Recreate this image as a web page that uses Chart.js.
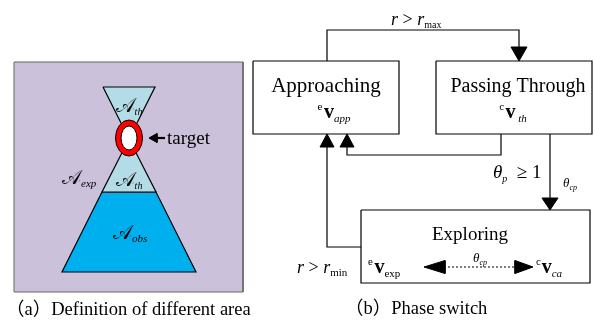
<!DOCTYPE html>
<html>
<head>
<meta charset="utf-8">
<script src="https://cdn.jsdelivr.net/npm/chart.js@4.4.1/dist/chart.umd.min.js"></script>
<style>
  html, body { margin: 0; padding: 0; background: #fff; }
  #wrap { width: 594px; height: 323px; position: relative; }
</style>
</head>
<body>
<div id="wrap"><canvas id="fig"></canvas></div>
<script>
// coordinates are in figure units (1 unit = 1px, y grows downward)

// (a) zones around the target
const panelA = [[14, 62], [243, 62], [243, 292], [14, 292]];
const zoneThTop = [[103, 87], [155, 87], [129, 139]];
const zoneThLow = [[129, 139], [156, 192], [102, 192]];
const zoneObs = [[102, 192], [156, 192], [196, 272], [62, 272]];
const ring = { x: 129, y: 138, rx: 13.5, ry: 18, irx: 8, iry: 12 };

// (b) phase boxes [left, top, right, bottom]
const boxApproach = [253, 61, 399, 134];
const boxPassing = [436, 61, 592, 134];
const boxExplore = [361, 210, 590, 283];

// transitions between phases
const links = [
  [[327, 61], [327, 30], [519, 30], [519, 48]],
  [[501, 134], [501, 155], [347, 155], [347, 146]],
  [[361, 247], [327, 247], [327, 146]],
  [[550, 134], [550, 199]]
];
const pointer = [[152, 138], [165, 138]];
const dotted = [[444, 267], [516, 267]];
// arrow heads: tip, direction, length, half width
const heads = [
  { tip: [519, 61], dir: 'down', len: 14, half: 8 },
  { tip: [347, 134], dir: 'up', len: 13, half: 7 },
  { tip: [327, 134], dir: 'up', len: 13, half: 7 },
  { tip: [550, 210], dir: 'down', len: 12, half: 8 },
  { tip: [424, 267], dir: 'left', len: 21, half: 6.5 },
  { tip: [533, 267], dir: 'right', len: 18, half: 6.5 },
  { tip: [149, 138], dir: 'left', len: 8, half: 4.5 }
];

// text: [text, style, size, dy]
const labels = [
  { at: [326, 92], align: 'center', runs: [['Approaching', 'n', 21]] },
  { at: [518, 92], align: 'center', runs: [['Passing Through', 'n', 20]] },
  { at: [470, 240], align: 'center', runs: [['Exploring', 'n', 19]] },
  { at: [334, 118], align: 'center', runs: [['e', 'n', 11, -8], [' ', 'n', 6], ['v', 'b', 20], ['app', 'i', 11, 4]] },
  { at: [513, 118], align: 'center', runs: [['c', 'n', 11, -8], [' ', 'n', 6], ['v', 'b', 20], [' th', 'i', 11, 4]] },
  { at: [391, 25], align: 'left', runs: [['r', 'i', 18], [' > ', 'n', 18], ['r', 'i', 18], ['max', 'n', 10, 3]] },
  { at: [493, 178], align: 'left', runs: [['θ', 'i', 19], ['p', 'i', 10, 4], ['  ≥ 1', 'n', 19]] },
  { at: [563, 187], align: 'left', runs: [['θ', 'i', 13], ['cp', 'i', 8, 3]] },
  { at: [473, 262], align: 'left', runs: [['θ', 'i', 13], ['cp', 'i', 8, 3]] },
  { at: [368, 273], align: 'left', runs: [['e', 'n', 11, -8], [' ', 'n', 6], ['v', 'b', 20], ['exp', 'n', 11, 4]] },
  { at: [536, 273], align: 'left', runs: [['c', 'n', 11, -8], [' ', 'n', 3], ['v', 'b', 20], ['ca', 'i', 11, 4]] },
  { at: [297, 273], align: 'left', runs: [['r', 'i', 18], [' > ', 'n', 18], ['r', 'i', 18], ['min', 'n', 11, 3]] },
  { at: [129, 112], align: 'center', runs: [['𝒜', 'n', 20], ['th', 'i', 10, 3]] },
  { at: [129, 186], align: 'center', runs: [['𝒜', 'n', 20], ['th', 'i', 10, 3]] },
  { at: [62, 184], align: 'left', runs: [['𝒜', 'n', 20], ['exp', 'i', 11, 3]] },
  { at: [113, 239], align: 'left', runs: [['𝒜', 'n', 20], ['obs', 'i', 11, 3]] },
  { at: [167, 144], align: 'left', runs: [['target', 'n', 19]] },
  { at: [6, 315], align: 'left', runs: [['（a）Definition of different area', 'n', 18.5]] },
  { at: [345, 314], align: 'left', runs: [['（b）Phase switch', 'n', 18.5]] }
];

const SERIF = '"Liberation Serif", "DejaVu Serif", "Noto Sans CJK SC", serif';

function pts(list) {
  return list.map(p => ({ x: p[0], y: p[1] }));
}

function rectPts(r) {
  return [[r[0], r[1]], [r[2], r[1]], [r[2], r[3]], [r[0], r[3]]];
}

function shape(list, fill, stroke, width, order) {
  const closed = list.concat([list[0]]);
  return {
    data: pts(closed), showLine: true, fill: 'shape',
    backgroundColor: fill, borderColor: stroke, borderWidth: width,
    pointRadius: 0, tension: 0, order: order
  };
}

function path(list, width, dash) {
  return {
    data: pts(list), showLine: true, fill: false, borderColor: '#000',
    borderWidth: width, borderDash: dash || [], pointRadius: 0, tension: 0, order: 2
  };
}

function headPts(h) {
  const [x, y] = h.tip;
  if (h.dir === 'down') return [[x, y], [x - h.half, y - h.len], [x + h.half, y - h.len]];
  if (h.dir === 'up') return [[x, y], [x - h.half, y + h.len], [x + h.half, y + h.len]];
  if (h.dir === 'left') return [[x, y], [x + h.len, y - h.half], [x + h.len, y + h.half]];
  return [[x, y], [x - h.len, y - h.half], [x - h.len, y + h.half]];
}

const datasets = [
  shape(panelA, '#cbc1da', '#666', 1, 9),
  shape(zoneObs, '#00b0ee', '#000', 1.2, 6),
  shape(zoneThLow, '#b4dce6', '#000', 1.2, 5),
  shape(zoneThTop, '#b4dce6', '#000', 1.2, 5),
  shape(rectPts(boxApproach), '#fff', '#000', 1.2, 4),
  shape(rectPts(boxPassing), '#fff', '#000', 1.2, 4),
  shape(rectPts(boxExplore), '#fff', '#000', 1.2, 4)
];
links.forEach(l => datasets.push(path(l, 1.2)));
datasets.push(path(pointer, 2.2));
datasets.push(path(dotted, 1.2, [2, 2]));
heads.forEach(h => datasets.push(shape(headPts(h), '#000', '#000', 1, 1)));

// target ring and all text, placed through the chart scales
const figureText = {
  id: 'figureText',
  afterDatasetsDraw(chart) {
    const ctx = chart.ctx;
    const xs = chart.scales.x, ys = chart.scales.y;
    const sx = xs.getPixelForValue(1) - xs.getPixelForValue(0);
    const sy = Math.abs(ys.getPixelForValue(1) - ys.getPixelForValue(0));
    ctx.save();

    const cx = xs.getPixelForValue(ring.x), cy = ys.getPixelForValue(ring.y);
    ctx.beginPath();
    ctx.ellipse(cx, cy, ring.rx * sx, ring.ry * sy, 0, 0, Math.PI * 2);
    ctx.fillStyle = '#ff0000';
    ctx.fill();
    ctx.lineWidth = 1;
    ctx.strokeStyle = '#000';
    ctx.stroke();
    ctx.beginPath();
    ctx.ellipse(cx, cy, ring.irx * sx, ring.iry * sy, 0, 0, Math.PI * 2);
    ctx.fillStyle = '#fff';
    ctx.fill();
    ctx.stroke();

    ctx.fillStyle = '#000';
    ctx.textBaseline = 'alphabetic';
    ctx.textAlign = 'left';
    const fontOf = (style, size) =>
      (style === 'i' ? 'italic ' : style === 'b' ? 'bold ' : '') + size + 'px ' + SERIF;
    labels.forEach(lb => {
      let total = 0;
      lb.runs.forEach(r => { ctx.font = fontOf(r[1], r[2]); total += ctx.measureText(r[0]).width; });
      let x = xs.getPixelForValue(lb.at[0]);
      const y = ys.getPixelForValue(lb.at[1]);
      if (lb.align === 'center') x -= total / 2;
      lb.runs.forEach(r => {
        ctx.font = fontOf(r[1], r[2]);
        ctx.fillText(r[0], x, y + (r[3] || 0));
        x += ctx.measureText(r[0]).width;
      });
    });
    ctx.restore();
  }
};

new Chart(document.getElementById('fig'), {
  type: 'scatter',
  data: { datasets: datasets },
  options: {
    responsive: true,
    maintainAspectRatio: false,
    animation: false,
    layout: { padding: 0 },
    plugins: { legend: { display: false }, tooltip: { enabled: false } },
    scales: {
      x: { type: 'linear', min: 0, max: 594, display: false },
      y: { type: 'linear', min: 0, max: 323, reverse: true, display: false }
    }
  },
  plugins: [figureText]
});
</script>
</body>
</html>
